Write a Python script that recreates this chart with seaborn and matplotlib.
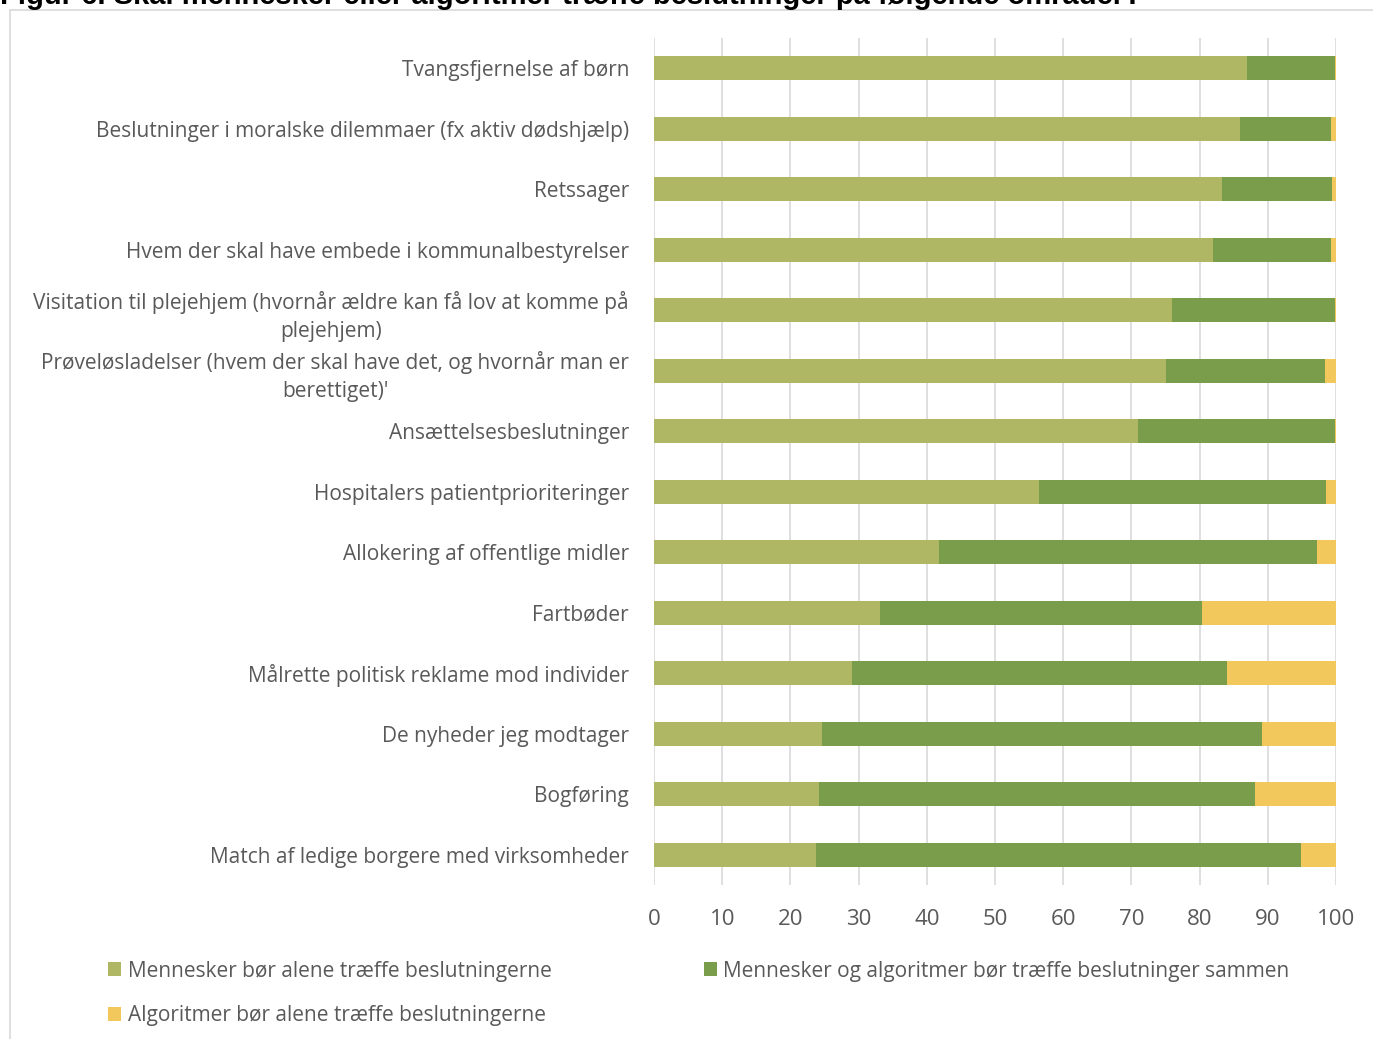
import matplotlib.pyplot as plt
import seaborn as sns
import pandas as pd
import numpy as np
from matplotlib.patches import Patch, Rectangle

# data (percent)
categories = [
    "Tvangsfjernelse af børn",
    "Beslutninger i moralske dilemmaer (fx aktiv dødshjælp)",
    "Retssager",
    "Hvem der skal have embede i kommunalbestyrelser",
    "Visitation til plejehjem (hvornår ældre kan få lov at komme på\nplejehjem)",
    "Prøveløsladelser (hvem der skal have det, og hvornår man er\nberettiget)'",
    "Ansættelsesbeslutninger",
    "Hospitalers patientprioriteringer",
    "Allokering af offentlige midler",
    "Fartbøder",
    "Målrette politisk reklame mod individer",
    "De nyheder jeg modtager",
    "Bogføring",
    "Match af ledige borgere med virksomheder",
]
humans_alone = [86.9, 85.9, 83.3, 82.0, 75.9, 75.1, 70.9, 56.4, 41.8, 33.1, 29.1, 24.6, 24.2, 23.7]
together = [12.9, 13.4, 16.1, 17.2, 23.9, 23.3, 28.9, 42.2, 55.4, 47.3, 54.9, 64.6, 63.9, 71.2]
algo_alone = [0.2, 0.7, 0.6, 0.8, 0.2, 1.6, 0.2, 1.4, 2.8, 19.6, 16.0, 10.8, 11.9, 5.1]

series_names = [
    "Mennesker bør alene træffe beslutningerne",
    "Mennesker og algoritmer bør træffe beslutninger sammen",
    "Algoritmer bør alene træffe beslutningerne",
]
colors = ["#AFB765", "#799D4A", "#F2C75C"]
title = "Figur 6. Skal mennesker eller algoritmer træffe beslutninger på følgende områder?"

sns.set_theme(style="white")
plt.rcParams['font.family'] = ['Open Sans', 'DejaVu Sans']

df = pd.DataFrame({"cat": categories, "h": humans_alone, "t": together, "a": algo_alone})
df["c1"] = df["h"]
df["c2"] = df["h"] + df["t"]
df["c3"] = df["h"] + df["t"] + df["a"]

fig = plt.figure(figsize=(13.73, 10.39), dpi=100)
ax = fig.add_axes([654 / 1373, 1 - 885 / 1039, (1336 - 654) / 1373, (885 - 38) / 1039])

# stacked bars drawn as overlapping cumulative totals
for col, c in zip(["c3", "c2", "c1"], colors[::-1]):
    sns.barplot(data=df, x=col, y="cat", orient="h", color=c, width=0.4,
                saturation=1, ax=ax, linewidth=0)

ax.set_xlim(0, 100)
ax.set_xticks(np.arange(0, 101, 10))
ax.xaxis.grid(True, color="#d9d9d9", linewidth=1.2)
ax.set_axisbelow(True)
for s in ax.spines.values():
    s.set_visible(False)
ax.set_xlabel("")
ax.set_ylabel("")
ax.tick_params(axis="both", length=0, labelcolor="#595959")
ax.tick_params(axis="y", labelsize=15, pad=18)
ax.tick_params(axis="x", labelsize=16, pad=17)
for lbl in ax.get_yticklabels():
    lbl.set_multialignment("center")
    lbl.set_linespacing(1.45)

handles = [Patch(facecolor=c, edgecolor="none") for c in colors]
order = [0, 2, 1]
fig.legend([handles[i] for i in order], [series_names[i] for i in order],
           loc="upper left", bbox_to_anchor=(89 / 1373, 1 - 942 / 1039),
           ncol=2, frameon=False, fontsize=15, labelcolor="#595959",
           handlelength=0.65, handleheight=0.65, handletextpad=0.3,
           columnspacing=7.3, labelspacing=1.12)

# outer chart border
fig.patches.append(Rectangle((10 / 1373, -0.01), 1.0, 1 - 10 / 1039 + 0.01,
                             transform=fig.transFigure, fill=False,
                             edgecolor="#d9d9d9", linewidth=1.2))

# title (cut off at top edge as in the source)
fig.text(0.0, 1 - 4 / 1039, title, fontsize=21, fontweight="bold",
         family="Liberation Sans", va="baseline", ha="left", color="black")

fig.savefig("out.png", dpi=100)
